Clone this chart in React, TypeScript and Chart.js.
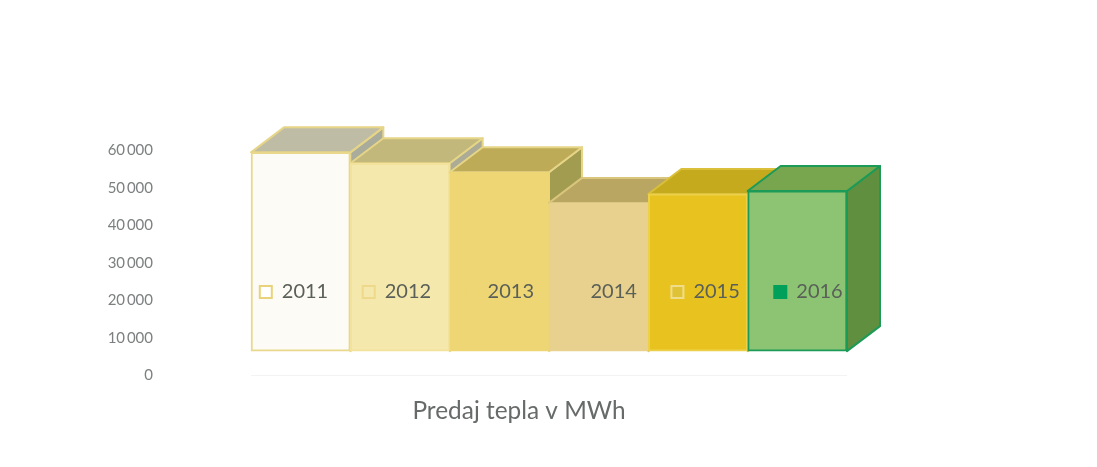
import React, { useEffect, useRef } from "react";
import { Chart, registerables, BarController, BarElement } from "chart.js";

Chart.register(...registerables);

const years = ["2011", "2012", "2013", "2014", "2015", "2016"];
const floorValue = 6400;
const topValues = [59500, 56600, 54200, 46000, 48400, 49200];
const frontColors = ["#fcfbf5", "#f5e8ad", "#eed674", "#e8d18e", "#e8c320", "#8cc474"];
const borderColors = ["#e9d88c", "#f2e29c", "#eed674", "#e8d18e", "#ecd04a", "#1c9a57"];
const topColors = ["#bfbca6", "#c2b87c", "#bdab58", "#b9a662", "#c5aa1e", "#78a64f"];
const sideColors = ["#a9ab9b", "#abab96", "#a19c50", "#a89a55", "#b09a1e", "#60903f"];
const edgeColors = ["#e6d587", "#e6d587", "#e6d587", "#d9c67c", "#d9bf3a", "#1c9a57"];
const legendFill = ["#ffffff", "#f5e8ad", "#eed674", "#e8d18e", "#e0c236", "#00a05a"];
const legendStroke = ["#ead27a", "#eed98a", "#eed674", "#e8d18e", "#f0dd8c", "#00a05a"];
const yTicks = [0, 10000, 20000, 30000, 40000, 50000, 60000];
const titleText = "Predaj tepla v MWh";

const depthX = 33;
const depthY = 25;

class Bar3DElement extends BarElement {
  static id = "bar3d";
  static defaults = BarElement.defaults;
  static defaultRoutes = BarElement.defaultRoutes;
  draw(ctx: CanvasRenderingContext2D) {
    const { x, y, base, width } = (this as any).getProps(["x", "y", "base", "width"]);
    const i = frontColors.indexOf((this as any).options.backgroundColor);
    const l = x - width / 2;
    const r = x + width / 2;
    ctx.save();
    ctx.lineWidth = 2;
    ctx.lineJoin = "round";
    ctx.strokeStyle = edgeColors[i];
    ctx.fillStyle = sideColors[i];
    ctx.beginPath();
    ctx.moveTo(r, y);
    ctx.lineTo(r + depthX, y - depthY);
    ctx.lineTo(r + depthX, base - depthY);
    ctx.lineTo(r, base);
    ctx.closePath();
    ctx.fill();
    ctx.stroke();
    ctx.fillStyle = topColors[i];
    ctx.beginPath();
    ctx.moveTo(l, y);
    ctx.lineTo(l + depthX, y - depthY);
    ctx.lineTo(r + depthX, y - depthY);
    ctx.lineTo(r, y);
    ctx.closePath();
    ctx.fill();
    ctx.stroke();
    ctx.restore();
    super.draw(ctx);
  }
}

class Bar3DController extends BarController {
  static id = "bar3d";
  static defaults = { ...(BarController as any).defaults, dataElementType: "bar3d" };
  static overrides = (BarController as any).overrides;
}

Chart.register(Bar3DElement as any, Bar3DController as any);

const placeBoxes = {
  id: "placeBoxes",
  beforeUpdate(chart: any) {
    if (chart.legend) {
      chart.legend._layers = () => [{ z: 1, draw: (a: any) => chart.legend.draw(a) }];
    }
  },
  afterLayout(chart: any) {
    const lg = chart.legend;
    if (lg) {
      lg.left = 202.5;
      lg.right = 900;
      lg.top = 247.5;
      lg.bottom = lg.top + lg.height;
    }
    const t = chart.titleBlock;
    if (t) {
      t.left = 0;
      t.right = 1038;
    }
  },
};

export default function App() {
  const ref = useRef<HTMLCanvasElement>(null);
  useEffect(() => {
    const chart = new Chart(ref.current as HTMLCanvasElement, {
      type: "bar3d" as any,
      data: {
        labels: years,
        datasets: [
          {
            data: topValues.map((v) => [floorValue, v]) as any,
            backgroundColor: frontColors,
            borderColor: borderColors,
            borderWidth: 2,
            borderSkipped: false,
            barPercentage: 1,
            categoryPercentage: 1,
            clip: false,
          } as any,
        ],
      },
      options: {
        responsive: false,
        animation: false,
        layout: { padding: { left: 0, right: 250, top: 86, bottom: 0 } },
        scales: {
          x: { type: "category", offset: true, display: false, grid: { display: false } },
          y: {
            type: "linear",
            min: 0,
            max: 60000,
            afterFit: (s: any) => {
              s.width = 251;
              s.paddingTop = 0;
              s.paddingBottom = 0;
            },
            afterBuildTicks: (s: any) => {
              s.ticks = yTicks.map((value) => ({ value }));
            },
            border: { display: false },
            grid: {
              drawTicks: false,
              color: (c: any) => (c.tick && c.tick.value === 0 ? "#f3f3f3" : "rgba(0,0,0,0)"),
            },
            ticks: {
              padding: 98,
              color: "#7d8080",
              font: { family: "Lato", size: 15 },
              callback: (v: any) => String(v).replace(/\B(?=(\d{3})+$)/g, "\u2009"),
            },
          },
        },
        plugins: {
          legend: {
            position: "top",
            align: "center",
            labels: {
              boxWidth: 12,
              boxHeight: 12,
              padding: 34.5,
              color: "#5a5f58",
              font: { family: "Lato", size: 20 },
              generateLabels: () =>
                years.map((text, i) => ({
                  text,
                  fillStyle: legendFill[i],
                  strokeStyle: legendStroke[i],
                  lineWidth: 2,
                  fontColor: "#5a5f58",
                  hidden: false,
                  index: i,
                })),
            },
          },
          title: {
            display: true,
            position: "bottom",
            text: titleText,
            color: "#666a68",
            font: { family: "Lato", size: 24.4, weight: "normal" },
            padding: { top: 21.6, bottom: 41 },
          },
          tooltip: { enabled: false },
        },
      } as any,
      plugins: [placeBoxes],
    });
    return () => chart.destroy();
  }, []);
  return (
    <div style={{ position: "fixed", left: 0, top: 0, width: 1097, height: 467, background: "#fff" }}>
      <canvas ref={ref} width={1097} height={467} style={{ display: "block" }} />
    </div>
  );
}
